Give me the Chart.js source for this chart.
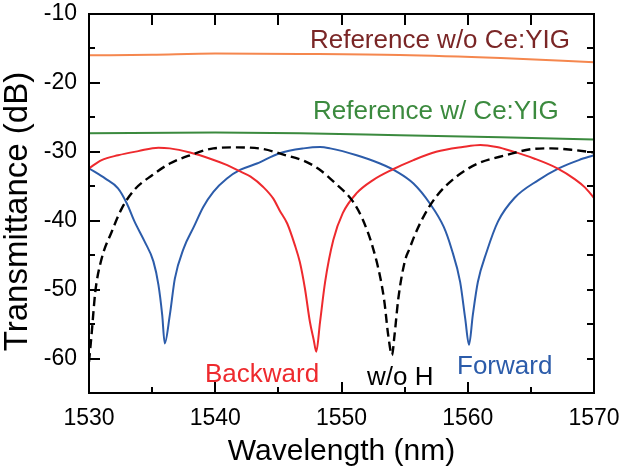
<!DOCTYPE html>
<html>
<head>
<meta charset="utf-8">
<script src="https://cdn.jsdelivr.net/npm/chart.js@4.4.0/dist/chart.umd.min.js"></script>
<style>
  html, body { margin: 0; padding: 0; background: #fff; }
  #wrap { width: 622px; height: 472px; }
</style>
</head>
<body>
<div id="wrap"><canvas id="transChart"></canvas></div>
<script>
// tick labels
var xTicks = [1530, 1540, 1550, 1560, 1570];
var yTicks = [-60, -50, -40, -30, -20, -10];

// Reference w/o Ce:YIG (orange)
var refNoYigWl = [1530, 1535, 1540, 1546.7, 1554.6, 1562.6, 1570];
var refNoYigDb = [-16.0, -15.9, -15.75, -15.8, -15.95, -16.4, -17.0];

// Reference w/ Ce:YIG (green)
var refYigWl = [1530, 1540, 1546.7, 1554.6, 1562.6, 1570];
var refYigDb = [-27.3, -27.2, -27.3, -27.6, -27.9, -28.2];

// Backward (red)
var backWl = [1530.0, 1531.0, 1532.3, 1533.9, 1535.5, 1536.4, 1538.0, 1539.6, 1540.9, 1541.8,
              1542.8, 1543.8, 1544.6, 1545.1, 1545.7, 1546.3, 1546.7, 1547.1, 1547.5, 1547.8,
              1548.0, 1548.3, 1548.7, 1549.35, 1550.1, 1551.2, 1552.5, 1554.0, 1555.7, 1557.5,
              1559.6, 1561.0, 1562.3, 1563.5, 1565.3, 1567.1, 1568.5, 1569.3, 1570.0];
var backDb = [-32.4, -31.2, -30.5, -29.9, -29.4, -29.5, -30.1, -31.0, -31.9, -32.7,
              -33.6, -35.1, -36.8, -38.5, -40.4, -43.5, -46.0, -49.8, -54.7, -57.3,
              -59.0, -54.7, -48.9, -42.8, -38.9, -36.0, -34.1, -32.6, -31.2, -30.0,
              -29.3, -29.0, -29.3, -29.9, -31.0, -32.4, -34.0, -35.2, -36.7];

// Forward (blue)
var fwdWl = [1530.0, 1531.3, 1532.3, 1533.0, 1533.6, 1534.4, 1535.1, 1535.5, 1535.8, 1536.0,
             1536.4, 1536.8, 1537.5, 1538.3, 1539.05, 1539.85, 1540.9, 1542.0, 1543.3, 1545.1,
             1547.0, 1548.3, 1549.1, 1551.2, 1553.05, 1554.4, 1555.7, 1557.0, 1558.1, 1558.7,
             1559.4, 1559.8, 1560.1, 1560.4, 1560.8, 1561.5, 1562.4, 1563.7, 1565.6, 1567.2,
             1568.8, 1570.0];
var fwdDb = [-32.4, -33.9, -35.3, -37.5, -40.1, -43.0, -45.9, -49.3, -53.7, -57.8,
             -53.7, -48.4, -44.0, -40.9, -38.0, -35.8, -33.9, -32.6, -31.7, -30.2,
             -29.5, -29.3, -29.5, -30.5, -31.7, -32.9, -34.6, -37.5, -40.9, -44.0,
             -48.9, -54.2, -58.0, -53.7, -48.9, -44.5, -40.1, -36.7, -34.1, -32.4,
             -31.2, -30.5];

// w/o H (black dashed)
var noHWl = [1530.0, 1530.2, 1530.5, 1531.0, 1531.8, 1532.6, 1533.6, 1535.0, 1536.4, 1538.0,
             1539.85, 1541.7, 1543.8, 1545.4, 1547.0, 1548.2, 1549.35, 1550.9, 1551.7, 1552.5,
             1553.1, 1553.4, 1553.7, 1554.0, 1554.2, 1554.5, 1555.0, 1555.4, 1555.8, 1556.5,
             1557.5, 1559.1, 1560.8, 1563.0, 1565.1, 1566.6, 1568.2, 1570.0];
var noHDb = [-60.5, -56.6, -50.3, -45.5, -41.6, -38.2, -35.5, -33.4, -31.7, -30.5,
             -29.5, -29.35, -29.6, -30.4, -31.3, -32.5, -34.3, -37.2, -39.9, -44.0,
             -48.5, -51.8, -56.6, -59.5, -56.6, -51.3, -46.0, -44.0, -42.1, -39.4,
             -36.5, -33.6, -31.7, -30.5, -29.6, -29.5, -29.7, -30.1];

function pts(wl, db) {
  return wl.map(function (w, i) { return { x: w, y: db[i] }; });
}

var FONT = '"Liberation Sans", Arial, Helvetica, sans-serif';
Chart.defaults.font.family = FONT;
Chart.defaults.color = '#000';

// frame, inward ticks, y title and curve labels
var framePlugin = {
  id: 'framePlugin',
  afterDraw: function (chart) {
    var ctx = chart.ctx;
    var a = chart.chartArea;
    var xs = chart.scales.x, ys = chart.scales.y;
    ctx.save();
    ctx.strokeStyle = '#000';
    ctx.lineWidth = 2;
    ctx.strokeRect(a.left, a.top, a.right - a.left, a.bottom - a.top);

    ctx.beginPath();
    for (var w = 1530; w <= 1570; w += 5) {
      var px = Math.round(xs.getPixelForValue(w));
      var major = (w % 10 === 0);
      ctx.moveTo(px, a.bottom);
      ctx.lineTo(px, a.bottom - (major ? 11 : 6));
      ctx.moveTo(px, a.top);
      ctx.lineTo(px, a.top + 11);
    }
    for (var d = -65; d <= -10; d += 5) {
      var py = Math.round(ys.getPixelForValue(d));
      var majorY = (d % 10 === 0);
      ctx.moveTo(a.left, py);
      ctx.lineTo(a.left + (majorY ? 11 : 6), py);
      ctx.moveTo(a.right, py);
      ctx.lineTo(a.right - 7, py);
    }
    ctx.stroke();

    // y axis title
    ctx.save();
    ctx.translate(18, (a.top + a.bottom) / 2 + 8);
    ctx.rotate(-Math.PI / 2);
    ctx.font = '33px ' + FONT;
    ctx.fillStyle = '#000';
    ctx.textAlign = 'center';
    ctx.textBaseline = 'middle';
    ctx.fillText('Transmittance (dB)', 0, 0);
    ctx.restore();

    ctx.font = '26px ' + FONT;
    ctx.textAlign = 'left';
    ctx.textBaseline = 'alphabetic';
    var labels = [
      { t: 'Reference w/o Ce:YIG', x: 1547.5, y: -14.93, c: '#7a2626' },
      { t: 'Reference w/ Ce:YIG', x: 1547.74, y: -25.3, c: '#3b8a3e' },
      { t: 'Backward', x: 1539.19, y: -63.4, c: '#ee2a2e' },
      { t: 'w/o H', x: 1552.02, y: -63.85, c: '#000000' },
      { t: 'Forward', x: 1559.15, y: -62.25, c: '#2c5caa' }
    ];
    labels.forEach(function (l) {
      ctx.fillStyle = l.c;
      ctx.fillText(l.t, xs.getPixelForValue(l.x), ys.getPixelForValue(l.y));
    });
    ctx.restore();
  }
};

var ctx = document.getElementById('transChart').getContext('2d');
var lineOpts = { pointRadius: 0, borderWidth: 2, fill: false, cubicInterpolationMode: 'monotone' };

new Chart(ctx, {
  type: 'line',
  data: {
    datasets: [
      Object.assign({ label: 'Reference w/o Ce:YIG', data: pts(refNoYigWl, refNoYigDb), borderColor: '#f5874e' }, lineOpts),
      Object.assign({ label: 'Reference w/ Ce:YIG', data: pts(refYigWl, refYigDb), borderColor: '#3b8a3e' }, lineOpts),
      Object.assign({}, lineOpts, { label: 'w/o H', data: pts(noHWl, noHDb), borderColor: '#000000', borderDash: [9, 5], borderWidth: 2.4 }),
      Object.assign({ label: 'Backward', data: pts(backWl, backDb), borderColor: '#ee2a2e' }, lineOpts),
      Object.assign({ label: 'Forward', data: pts(fwdWl, fwdDb), borderColor: '#2c5caa' }, lineOpts)
    ]
  },
  options: {
    responsive: true,
    maintainAspectRatio: false,
    animation: false,
    layout: { padding: { top: 14, right: 28, left: 0, bottom: 0 } },
    plugins: { legend: { display: false }, tooltip: { enabled: false } },
    scales: {
      x: {
        type: 'linear',
        min: 1530, max: 1570,
        afterBuildTicks: function (s) { s.ticks = xTicks.map(function (v) { return { value: v }; }); },
        afterFit: function (s) { s.height = 79; s.paddingLeft = 0; s.paddingRight = 0; },
        grid: { display: false, drawTicks: false },
        border: { display: false },
        ticks: { font: { size: 23 }, padding: 12, maxRotation: 0, callback: function (v) { return String(v); } },
        title: { display: true, text: 'Wavelength (nm)', font: { size: 30 }, padding: { top: 0, bottom: 2 } }
      },
      y: {
        type: 'linear',
        min: -65, max: -10,
        afterBuildTicks: function (s) { s.ticks = yTicks.map(function (v) { return { value: v }; }); },
        afterFit: function (s) { s.width = 89; s.paddingTop = 0; s.paddingBottom = 0; },
        grid: { display: false, drawTicks: false },
        border: { display: false },
        ticks: { font: { size: 23 }, padding: 12, callback: function (v) { return String(v); } }
      }
    }
  },
  plugins: [framePlugin]
});
</script>
</body>
</html>
